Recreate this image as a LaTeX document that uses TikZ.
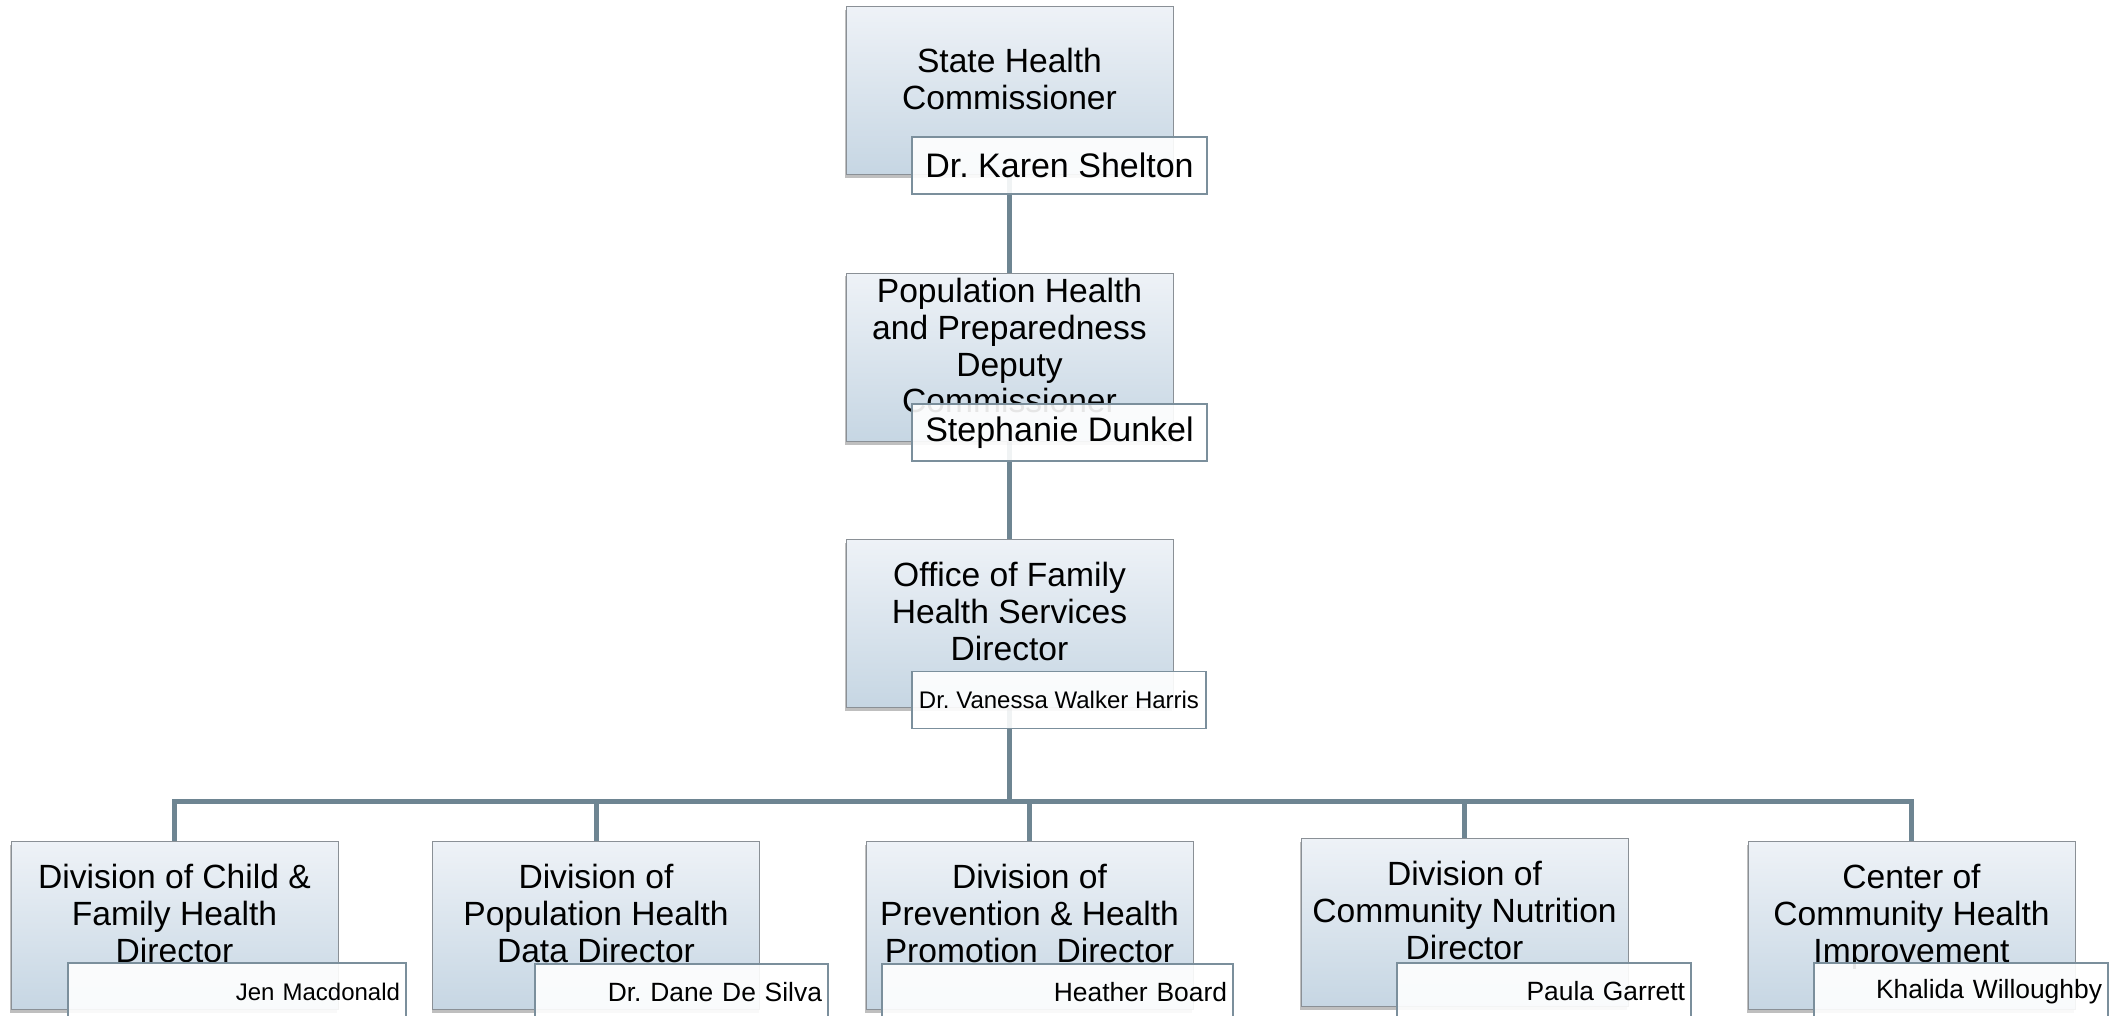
\documentclass[tikz,border=0pt]{standalone}
\usepackage{fontspec}
\setmainfont{Liberation Sans}
\frenchspacing
\usepackage{tikz}
\usetikzlibrary{positioning,shadows,backgrounds,calc}
\definecolor{boxtop}{HTML}{EEF2F7}
\definecolor{boxbot}{HTML}{C6D6E3}
\definecolor{boxline}{HTML}{8A9096}
\definecolor{tagline}{HTML}{7B8F9C}
\definecolor{linkcol}{HTML}{6E8592}
\tikzset{
  unit/.style   = {draw=boxline, line width=0.5pt, top color=boxtop,
                   bottom color=boxbot, minimum width=163.5pt,
                   minimum height=84pt, inner sep=0pt,
                   drop shadow={shadow xshift=-0.5pt, shadow yshift=-1.5pt,
                   opacity=0.25, fill=black}},
  title/.style  = {font=\fontsize{16.8}{18.35}\selectfont, align=center,
                   inner sep=0pt, text depth=0pt},
  tag/.style    = {draw=tagline, line width=0.75pt, fill=white,
                   fill opacity=0.9, text opacity=1, minimum height=28.5pt,
                   inner sep=0pt},
  big tag/.style   = {tag, font=\fontsize{17}{20}\selectfont, minimum width=#1},
  small tag/.style = {tag, font=\fontsize{12}{14}\selectfont, minimum width=#1},
  name tag/.style  = {tag, font=\fontsize{13.2}{15}\selectfont, inner xsep=3pt,
                   align=right, text width=#1},
  link/.style   = {draw=linkcol, line width=2.5pt}
}

\begin{document}
\begin{tikzpicture}[x=0.5pt, y=-0.5pt]
  \useasboundingbox (0,0) rectangle (2126,1016);
  % upper chain of offices
  \node[unit] (shc)  at (1009.5,91)    {};
  \node[unit] (phd)  at (1009.5,357.5) {};
  \node[unit] (ofhs) at (1009.5,623.5) {};
  \node[title] (shc-t)  at ([yshift=6pt]shc.center)  {State Health\\Commissioner};
  \node[title] (phd-t)  at ([yshift=6pt]phd.center)  {Population Health\\and Preparedness\\Deputy\\Commissioner};
  \node[title] (ofhs-t) at ([yshift=6pt]ofhs.center) {Office of Family\\Health Services\\Director};
  \node[big tag=147.5pt]  (shc-n)  at (1059.5,165.5) {Dr. Karen Shelton};
  \node[big tag=147.5pt]  (phd-n)  at (1059.5,432.5) {Stephanie Dunkel};
  \node[small tag=147pt]  (ofhs-n) at (1059,700)     {Dr. Vanessa Walker Harris};
  % the divisions, bottom row
  \node[unit] (cfh)  at (174.5,925.5)  {};
  \node[unit] (pd)   at (596,925.5)    {};
  \node[unit] (php)  at (1029.5,925.5) {};
  \node[unit] (cn)   at (1464.5,922.5) {};
  \node[unit] (cchi) at (1911.5,925.5) {};
  \node[title] (cfh-t)  at ([yshift=6pt]cfh.center)  {Division of Child \&\\Family Health\\Director};
  \node[title] (pd-t)   at ([yshift=6pt]pd.center)   {Division of\\Population Health\\Data Director};
  \node[title] (php-t)  at ([yshift=6pt]php.center)  {Division of\\Prevention \& Health\\Promotion~ Director};
  \node[title] (cn-t)   at ([yshift=6pt]cn.center)   {Division of\\Community Nutrition\\Director};
  \node[title] (cchi-t) at ([yshift=6pt]cchi.center) {Center of\\Community Health\\Improvement};
  \node[name tag=163pt, font=\fontsize{12}{14}\selectfont]
                          (cfh-n)  at (237,991.5)    {Jen Macdonald};
  \node[name tag=140.5pt] (pd-n)   at (681.5,992.5)  {Dr. Dane De Silva};
  \node[name tag=169.5pt] (php-n)  at (1057.5,992.5) {Heather Board};
  \node[name tag=141pt]   (cn-n)   at (1544,991.5)   {Paula Garrett};
  \node[name tag=141pt]   (cchi-n) at (1961,991.5)   {Khalida Willoughby};
  % connectors behind the boxes
  \begin{scope}[on background layer]
    \coordinate (bus) at (1009.5,801);
    \draw[link] (shc) -- (phd);
    \draw[link] (phd) -- (ofhs);
    \foreach \d in {cfh,pd,php,cn,cchi}
      \draw[link] (ofhs.south) -- (bus) -| (\d.north);
  \end{scope}
\end{tikzpicture}
\end{document}
